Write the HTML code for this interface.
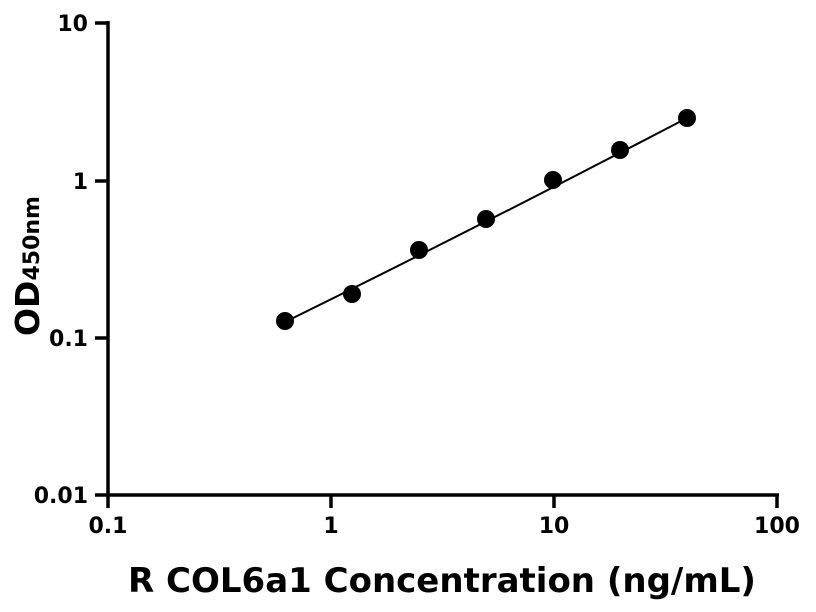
<!DOCTYPE html>
<html><head><style>body{margin:0;background:#fff}svg{display:block}</style></head><body>
<svg width="816" height="612" xmlns="http://www.w3.org/2000/svg" font-family="DejaVu Sans, Liberation Sans, sans-serif" font-weight="bold">
<g stroke="#000" stroke-width="3.5" fill="none">
<line x1="108" y1="21" x2="108" y2="495"/>
<line x1="106.5" y1="495" x2="779" y2="495"/>
<line x1="95" y1="23" x2="108" y2="23"/>
<line x1="95" y1="181" x2="108" y2="181"/>
<line x1="95" y1="338" x2="108" y2="338"/>
<line x1="95" y1="495" x2="108" y2="495"/>
<line x1="108" y1="495" x2="108" y2="508"/>
<line x1="331" y1="495" x2="331" y2="508"/>
<line x1="554" y1="495" x2="554" y2="508"/>
<line x1="777" y1="495" x2="777" y2="508"/>
</g>
<g font-size="22" text-anchor="end" fill="#000">
<text x="88" y="31">10</text>
<text x="88" y="189">1</text>
<text x="88" y="346">0.1</text>
<text x="88" y="503">0.01</text>
</g>
<g font-size="22" text-anchor="middle" fill="#000">
<text x="108" y="533">0.1</text>
<text x="331" y="533">1</text>
<text x="554" y="533">10</text>
<text x="777" y="533">100</text>
</g>
<text x="442" y="592" font-size="34" text-anchor="middle">R COL6a1 Concentration (ng/mL)</text>
<text transform="translate(39,336) rotate(-90)" font-size="33">OD<tspan font-size="22">450nm</tspan></text>
<path fill="none" stroke="#000" stroke-width="2" d="M285,322 Q486,223 687,118"/>
<g fill="#000">
<circle cx="285" cy="321" r="9"/><circle cx="352" cy="294" r="9"/><circle cx="419" cy="250" r="9"/><circle cx="486" cy="219" r="9"/><circle cx="553" cy="180" r="9"/><circle cx="620" cy="150" r="9"/><circle cx="687" cy="118" r="9"/>
</g>
</svg>
</body></html>
